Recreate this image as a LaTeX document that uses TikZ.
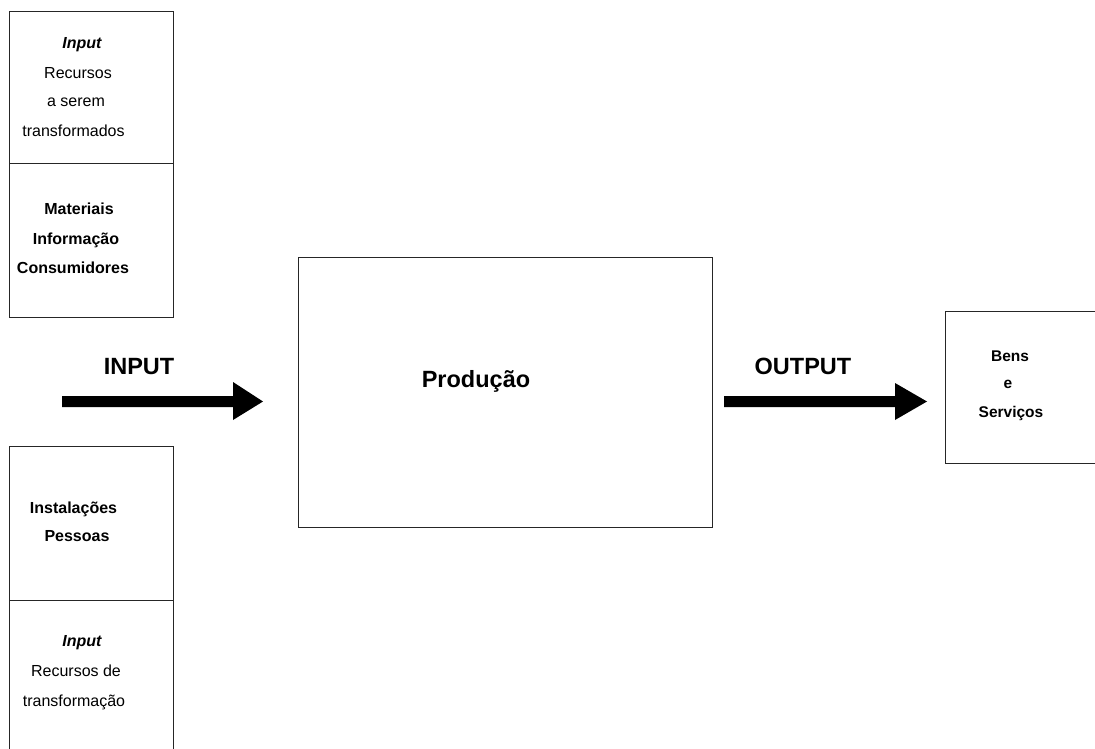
\documentclass[tikz,border=0pt]{standalone}
\usepackage{fontspec}
\setmainfont{Liberation Sans}
\tikzset{
  box/.style={draw=black!85, line width=1pt},
  txt/.style={inner sep=0pt, anchor=base, font=\fontsize{16}{19}\selectfont},
  btxt/.style={txt, font=\fontsize{16}{19}\selectfont\bfseries},
  itxt/.style={txt, font=\fontsize{16}{19}\selectfont\bfseries\itshape},
  rtxt/.style={txt, font=\fontsize{15.5}{19}\selectfont\bfseries},
  big/.style={inner sep=0pt, anchor=base, font=\fontsize{23.5}{28}\selectfont\bfseries},
  fatarrow/.style={fill=black, draw=none}
}
\begin{document}
\begin{tikzpicture}[x=1pt,y=-1pt]
\useasboundingbox (0,0) rectangle (1095,749);
% top-left box
\draw[box] (9,12) rectangle (173,317);
\draw[box] (9,164) -- (173,164);
\node[itxt] (in1) at (82,49) {Input};
\node[txt] (rec1) at (78,79) {Recursos};
\node[txt] (ser) at (76,107) {a serem};
\node[txt] (tra1) at (73.5,137) {transformados};
\node[btxt] (mat) at (79,214) {Materiais};
\node[btxt] (inf) at (76,244) {Informação};
\node[btxt] (con) at (73,273) {Consumidores};
% bottom-left box (open at bottom)
\draw[box] (9,749) -- (9,446) -- (173,446) -- (173,749);
\draw[box] (9,600) -- (173,600);
\node[btxt] (ins) at (73.5,513) {Instalações};
\node[btxt] (pes) at (77,541) {Pessoas};
\node[itxt] (in2) at (82,646) {Input};
\node[txt] (rec2) at (76,676) {Recursos de};
\node[txt] (tra2) at (74,706) {transformação};
% production box
\draw[box] (298,257) rectangle (712,527);
\node[big] (prod) at (476,387) {Produção};
% output box (open at right edge)
\draw[box] (1095,311) -- (945,311) -- (945,463) -- (1095,463);
\node[rtxt] (bens) at (1010,361) {Bens};
\node[rtxt] (e) at (1008,388) {e};
\node[rtxt] (serv) at (1011,417) {Serviços};
% labels
\node[big] (inlab) at (139,374) {INPUT};
\node[big] (outlab) at (803,374) {OUTPUT};
% fat arrows
\coordinate (a1e) at (263,401.5);
\fill[fatarrow] (62,396) -- (233,396) -- (233,382) -- (a1e) -- (233,420) -- (233,407) -- (62,407) -- cycle;
\coordinate (a2e) at (927,401.5);
\fill[fatarrow] (724,396) -- (895,396) -- (895,383) -- (a2e) -- (895,420) -- (895,407) -- (724,407) -- cycle;
\end{tikzpicture}
\end{document}
